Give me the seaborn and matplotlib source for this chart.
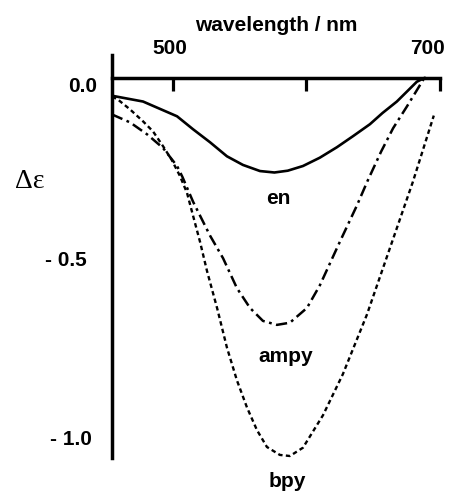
import numpy as np
import pandas as pd
import matplotlib
matplotlib.use("Agg")
import matplotlib.pyplot as plt
import matplotlib.transforms as mtransforms
import seaborn as sns

# CD spectra (wavelength in nm, delta epsilon)
en_wl = [454.3, 477.5, 503.0, 515.0, 527.7, 540.4, 552.4, 565.2, 576.0, 586.0, 597.4, 610.0,
         622.8, 635.0, 647.6, 657.0, 667.8, 676.0, 682.8, 688.8]
en_de = [-0.050, -0.066, -0.107, -0.143, -0.179, -0.218, -0.242, -0.259, -0.263, -0.258, -0.245, -0.222,
         -0.193, -0.162, -0.129, -0.098, -0.066, -0.036, -0.011, 0.0]

ampy_wl = [454.3, 467.8, 480.5, 492.5, 503.0, 507.0, 515.0, 527.7, 537.5, 547.9, 557.7, 567.4,
           577.9, 587.6, 600.4, 610.1, 625.1, 637.8, 646.0, 656.0, 665.0, 675.3, 688.5]
ampy_de = [-0.102, -0.124, -0.157, -0.195, -0.245, -0.275, -0.344, -0.438, -0.501, -0.584, -0.639, -0.675,
           -0.686, -0.680, -0.639, -0.576, -0.455, -0.355, -0.285, -0.205, -0.140, -0.080, 0.0]

bpy_wl = [454.3, 458.8, 467.8, 477.5, 485.0, 492.5, 499.0, 505.2, 510.5, 515.0, 520.2, 525.5,
          533.0, 540.4, 547.9, 555.4, 562.9, 570.4, 580.1, 587.6, 597.4, 612.4, 627.3, 645.3,
          662.5, 679.8, 695.5]
bpy_de = [-0.052, -0.061, -0.088, -0.121, -0.149, -0.190, -0.228, -0.273, -0.320, -0.383, -0.455, -0.537,
          -0.639, -0.749, -0.840, -0.915, -0.978, -1.025, -1.047, -1.050, -1.027, -0.937, -0.823, -0.658,
          -0.474, -0.289, -0.105]

labels = ["en", "ampy", "bpy"]
label_pos = [(578.7, -0.350), (584.6, -0.790), (585.4, -1.135)]

x_ticks = [500, 600, 700]
x_ticklabels = ["500", "", "700"]
y_ticks = [0.0, -0.5, -1.0]
y_ticklabels = ["0.0", "- 0.5", "- 1.0"]

sns.set_style("white")
plt.rcParams['font.family'] = ['Liberation Sans', 'DejaVu Sans']
for k in ['text.color', 'axes.labelcolor', 'xtick.color', 'ytick.color', 'axes.edgecolor']:
    plt.rcParams[k] = 'black'

fig = plt.figure(figsize=(4.52, 4.96), dpi=100)
ax = fig.add_axes([0.248, 0.077, 0.725, 0.812])

sns.lineplot(x=en_wl, y=en_de, ax=ax, color="black", lw=1.9, sort=False)
sns.lineplot(x=ampy_wl, y=ampy_de, ax=ax, color="black", lw=1.8, sort=False,
             linestyle=(0, (4.5, 1.8, 1.1, 1.8)))
sns.lineplot(x=bpy_wl, y=bpy_de, ax=ax, color="black", lw=1.7, sort=False,
             linestyle=(0, (1.9, 1.4)))

ax.set_xlim(454.3, 700)
ax.set_ylim(-1.055, 0.063)

# left spine over the full height, x axis drawn along y = 0 with labels on top
ax.spines['right'].set_visible(False)
ax.spines['bottom'].set_visible(False)
ax.spines['top'].set_position(('data', 0))
for s in ['left', 'top']:
    ax.spines[s].set_linewidth(2.5)

ax.xaxis.set_ticks_position('top')
ax.xaxis.set_label_position('top')
ax.set_xticks(x_ticks)
ax.set_xticklabels(x_ticklabels)
ax.set_yticks(y_ticks)
ax.set_yticklabels(y_ticklabels)
ax.tick_params(axis='x', direction='in', length=9, width=2.3, pad=14, labelsize=15)
ax.tick_params(axis='y', direction='in', length=10, width=2.3, pad=11, labelsize=15)
for t in ax.get_xticklabels() + ax.get_yticklabels():
    t.set_fontweight('bold')

# small nudges of tick labels to sit like the original
x_shift = [-0.03, 0, -0.12]
for t, dx in zip(ax.get_xticklabels(), x_shift):
    t.set_transform(t.get_transform() + mtransforms.ScaledTranslation(dx, 0, fig.dpi_scale_trans))
y_shift = [(0, -0.07), (-0.10, -0.01), (-0.05, 0)]
for t, (dx, dy) in zip(ax.get_yticklabels(), y_shift):
    t.set_transform(t.get_transform() + mtransforms.ScaledTranslation(dx, dy, fig.dpi_scale_trans))

ax.set_xlabel("wavelength / nm", fontsize=15, fontweight='bold', labelpad=6)
ax.set_ylabel("")

fig.text(0.066, 0.635, "Δε", fontsize=20, family=['Liberation Serif', 'DejaVu Serif'],
         ha='center', va='center')

for name, (lx, ly) in zip(labels, label_pos):
    ax.text(lx, ly, name, fontsize=15, fontweight='bold', ha='center', va='baseline',
            clip_on=False)

fig.savefig("out.png", dpi=100)
